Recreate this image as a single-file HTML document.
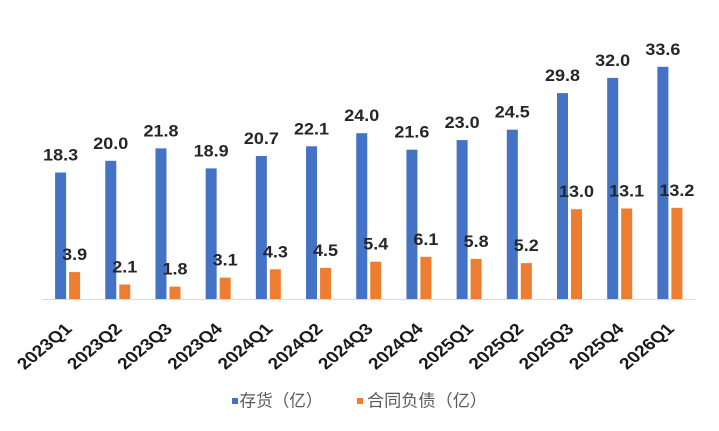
<!DOCTYPE html>
<html><head><meta charset="utf-8"><style>
html,body{margin:0;padding:0;background:#fff;}
svg{display:block;}
.v{font-family:"Liberation Sans",sans-serif;font-weight:bold;font-size:16.5px;fill:#262626;text-anchor:middle;}
.x{font-family:"Liberation Sans",sans-serif;font-weight:bold;font-size:16px;fill:#1a1a1a;text-anchor:end;}
.lg{font-family:"Liberation Sans","Noto Sans CJK SC",sans-serif;font-size:17px;fill:#595959;}
</style></head><body>
<svg width="719" height="431" viewBox="0 0 719 431" xmlns="http://www.w3.org/2000/svg">
<rect width="719" height="431" fill="#fff"/>
<line x1="42.5" y1="299.5" x2="695" y2="299.5" stroke="#d9d9d9" stroke-width="1"/>
<g fill="#4472C4">
<rect x="55.1" y="172.5" width="11" height="126.5"/>
<rect x="105.28" y="160.8" width="11" height="138.2"/>
<rect x="155.47" y="148.4" width="11" height="150.6"/>
<rect x="205.66" y="168.4" width="11" height="130.6"/>
<rect x="255.85" y="156.0" width="11" height="143.0"/>
<rect x="306.05" y="146.3" width="11" height="152.7"/>
<rect x="356.24" y="133.2" width="11" height="165.8"/>
<rect x="406.43" y="149.7" width="11" height="149.3"/>
<rect x="456.62" y="140.1" width="11" height="158.9"/>
<rect x="506.81" y="129.7" width="11" height="169.3"/>
<rect x="557.0" y="93.1" width="11" height="205.9"/>
<rect x="607.19" y="77.9" width="11" height="221.1"/>
<rect x="657.38" y="66.8" width="11" height="232.2"/>
</g>
<g fill="#ED7D31">
<rect x="69.1" y="272.1" width="11" height="26.9"/>
<rect x="119.28" y="284.5" width="11" height="14.5"/>
<rect x="169.47" y="286.6" width="11" height="12.4"/>
<rect x="219.66" y="277.6" width="11" height="21.4"/>
<rect x="269.85" y="269.3" width="11" height="29.7"/>
<rect x="320.05" y="267.9" width="11" height="31.1"/>
<rect x="370.24" y="261.7" width="11" height="37.3"/>
<rect x="420.43" y="256.8" width="11" height="42.2"/>
<rect x="470.62" y="258.9" width="11" height="40.1"/>
<rect x="520.81" y="263.1" width="11" height="35.9"/>
<rect x="571.0" y="209.2" width="11" height="89.8"/>
<rect x="621.19" y="208.5" width="11" height="90.5"/>
<rect x="671.38" y="207.8" width="11" height="91.2"/>
</g>
<g class="v">
<text x="60.6" y="160.5" textLength="35" lengthAdjust="spacingAndGlyphs">18.3</text>
<text x="110.78" y="148.8" textLength="35" lengthAdjust="spacingAndGlyphs">20.0</text>
<text x="160.97" y="136.4" textLength="35" lengthAdjust="spacingAndGlyphs">21.8</text>
<text x="211.16" y="156.4" textLength="35" lengthAdjust="spacingAndGlyphs">18.9</text>
<text x="261.35" y="144.0" textLength="35" lengthAdjust="spacingAndGlyphs">20.7</text>
<text x="311.55" y="134.3" textLength="35" lengthAdjust="spacingAndGlyphs">22.1</text>
<text x="361.74" y="121.2" textLength="35" lengthAdjust="spacingAndGlyphs">24.0</text>
<text x="411.93" y="137.7" textLength="35" lengthAdjust="spacingAndGlyphs">21.6</text>
<text x="462.12" y="128.1" textLength="35" lengthAdjust="spacingAndGlyphs">23.0</text>
<text x="512.31" y="117.7" textLength="35" lengthAdjust="spacingAndGlyphs">24.5</text>
<text x="562.5" y="81.1" textLength="35" lengthAdjust="spacingAndGlyphs">29.8</text>
<text x="612.69" y="65.9" textLength="35" lengthAdjust="spacingAndGlyphs">32.0</text>
<text x="662.88" y="54.8" textLength="35" lengthAdjust="spacingAndGlyphs">33.6</text>
<text x="74.6" y="260.1" textLength="25" lengthAdjust="spacingAndGlyphs">3.9</text>
<text x="124.78" y="272.5" textLength="25" lengthAdjust="spacingAndGlyphs">2.1</text>
<text x="174.97" y="274.6" textLength="25" lengthAdjust="spacingAndGlyphs">1.8</text>
<text x="225.16" y="265.6" textLength="25" lengthAdjust="spacingAndGlyphs">3.1</text>
<text x="275.35" y="257.3" textLength="25" lengthAdjust="spacingAndGlyphs">4.3</text>
<text x="325.55" y="255.9" textLength="25" lengthAdjust="spacingAndGlyphs">4.5</text>
<text x="375.74" y="249.7" textLength="25" lengthAdjust="spacingAndGlyphs">5.4</text>
<text x="425.93" y="244.8" textLength="25" lengthAdjust="spacingAndGlyphs">6.1</text>
<text x="476.12" y="246.9" textLength="25" lengthAdjust="spacingAndGlyphs">5.8</text>
<text x="526.31" y="251.1" textLength="25" lengthAdjust="spacingAndGlyphs">5.2</text>
<text x="576.5" y="197.2" textLength="35" lengthAdjust="spacingAndGlyphs">13.0</text>
<text x="626.69" y="196.5" textLength="35" lengthAdjust="spacingAndGlyphs">13.1</text>
<text x="676.88" y="195.8" textLength="35" lengthAdjust="spacingAndGlyphs">13.2</text>
</g>
<g class="x">
<text transform="translate(73,330) scale(1.2,1) rotate(-45)">2023Q1</text>
<text transform="translate(123.18,330) scale(1.2,1) rotate(-45)">2023Q2</text>
<text transform="translate(173.37,330) scale(1.2,1) rotate(-45)">2023Q3</text>
<text transform="translate(223.56,330) scale(1.2,1) rotate(-45)">2023Q4</text>
<text transform="translate(273.75,330) scale(1.2,1) rotate(-45)">2024Q1</text>
<text transform="translate(323.95,330) scale(1.2,1) rotate(-45)">2024Q2</text>
<text transform="translate(374.14,330) scale(1.2,1) rotate(-45)">2024Q3</text>
<text transform="translate(424.33,330) scale(1.2,1) rotate(-45)">2024Q4</text>
<text transform="translate(474.52,330) scale(1.2,1) rotate(-45)">2025Q1</text>
<text transform="translate(524.71,330) scale(1.2,1) rotate(-45)">2025Q2</text>
<text transform="translate(574.9,330) scale(1.2,1) rotate(-45)">2025Q3</text>
<text transform="translate(625.09,330) scale(1.2,1) rotate(-45)">2025Q4</text>
<text transform="translate(675.28,330) scale(1.2,1) rotate(-45)">2026Q1</text>
</g>
<rect x="232" y="398" width="6" height="6" fill="#4472C4"/>
<text class="lg" x="239.5" y="406.5" textLength="83" lengthAdjust="spacingAndGlyphs">存货（亿）</text>
<rect x="357" y="398" width="6" height="6" fill="#ED7D31"/>
<text class="lg" x="367" y="406.5" textLength="120" lengthAdjust="spacingAndGlyphs">合同负债（亿）</text>
</svg>
</body></html>
